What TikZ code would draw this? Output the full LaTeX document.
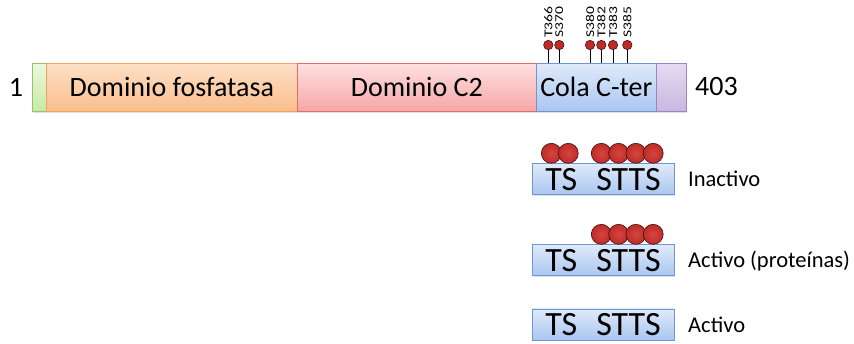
\documentclass[tikz,border=0pt]{standalone}
\usepackage{fontspec}
\setmainfont{Carlito}
\usetikzlibrary{shadows}
\definecolor{grnT}{RGB}{236,248,220}\definecolor{grnB}{RGB}{200,234,164}\definecolor{grnD}{RGB}{150,196,100}
\definecolor{orT}{RGB}{253,224,198}\definecolor{orB}{RGB}{251,190,140}\definecolor{orD}{RGB}{246,160,95}
\definecolor{rdT}{RGB}{255,224,224}\definecolor{rdB}{RGB}{245,166,166}\definecolor{rdD}{RGB}{218,110,112}
\definecolor{blT}{RGB}{223,234,250}\definecolor{blB}{RGB}{170,198,240}\definecolor{blD}{RGB}{110,150,210}
\definecolor{puT}{RGB}{229,220,240}\definecolor{puB}{RGB}{200,182,226}\definecolor{puD}{RGB}{156,134,192}
\definecolor{phF}{RGB}{190,44,40}\definecolor{phD}{RGB}{70,15,15}\definecolor{phI}{RGB}{212,70,64}
\begin{document}
\begin{tikzpicture}[x=1pt,y=-1pt,
  seg/.style={draw,line width=0.7pt,inner sep=0pt,minimum height=48pt,anchor=north west,
     font=\fontsize{28}{30}\selectfont,
     drop shadow={shadow xshift=1pt,shadow yshift=-2pt,opacity=0.25}},
  lbox/.style={draw=blD,line width=0.7pt,top color=blT,bottom color=blB,inner sep=0pt,
     minimum width=142pt,minimum height=31pt,anchor=north west,
     font=\fontsize{34}{36}\selectfont,
     drop shadow={shadow xshift=1pt,shadow yshift=-1.5pt,opacity=0.25}},
  pin/.style={circle,inner sep=0pt,minimum size=9.4pt,fill=phF,draw=phD,line width=0.6pt},
  ball/.style={circle,inner sep=0pt,minimum size=20pt,inner color=phI,outer color=phF,draw=phD,line width=0.6pt},
  plab/.style={rotate=90,anchor=west,inner sep=0pt,font=\fontsize{12}{12}\selectfont},
  stem/.style={draw,line width=0.7pt},
  num/.style={inner sep=0pt,font=\fontsize{28}{30}\selectfont},
  state/.style={inner sep=0pt,anchor=base west,font=\fontsize{22.5}{24}\selectfont}]
\useasboundingbox (0,0) rectangle (854,343);
% main bar
\node[seg,draw=grnD,top color=grnT,bottom color=grnB,minimum width=14pt] (nt) at (32,63) {};
\node[seg,draw=orD,top color=orT,bottom color=orB,minimum width=251pt] (fos) at (46,63) {Dominio fosfatasa};
\node[seg,draw=rdD,top color=rdT,bottom color=rdB,minimum width=239pt] (c2) at (297,63) {Dominio C2};
\node[seg,draw=blD,top color=blT,bottom color=blB,minimum width=120pt] (cter) at (536,63) {Cola C-ter};
\node[seg,draw=puD,top color=puT,bottom color=puB,minimum width=30pt] (ct) at (656,63) {};
\node[num] (n1) at (16,87) {1};
\node[num,anchor=west] (n403) at (695,87) {403};
% phosphorylation sites
\foreach \x/\l [count=\i] in {548.3/T366,559.3/S370,590/S380,601.3/T382,613/T383,627.3/S385}{
  \node[pin] (p\i) at (\x,45) {};
  \node[plab] (l\i) at (\x,38) {\scalebox{1.3}[1]{\l}};
  \coordinate (b\i) at (p\i.south |- cter.north);
  \draw[stem] (p\i) -- (b\i);
}
% states
\node[lbox] (s1) at (531.7,163.3) {TS\hspace{19pt}STTS};
\node[lbox] (s2) at (531.7,244.3) {TS\hspace{19pt}STTS};
\node[lbox] (s3) at (531.7,308.5) {TS\hspace{19pt}STTS};
\foreach \x [count=\i] in {551.3,568.3,601.3,618.6,635.9,653.2}{
  \node[ball] (a\i) at (\x,153.3) {};
}
\foreach \x [count=\i] in {601.3,618.6,635.9,653.2}{
  \node[ball] (c\i) at (\x,234.3) {};
}
\node[state] (t1) at (688,186.5) {Inactivo};
\node[state] (t2) at (688,267.5) {Activo (proteínas)};
\node[state] (t3) at (688,332) {Activo};
\end{tikzpicture}
\end{document}
